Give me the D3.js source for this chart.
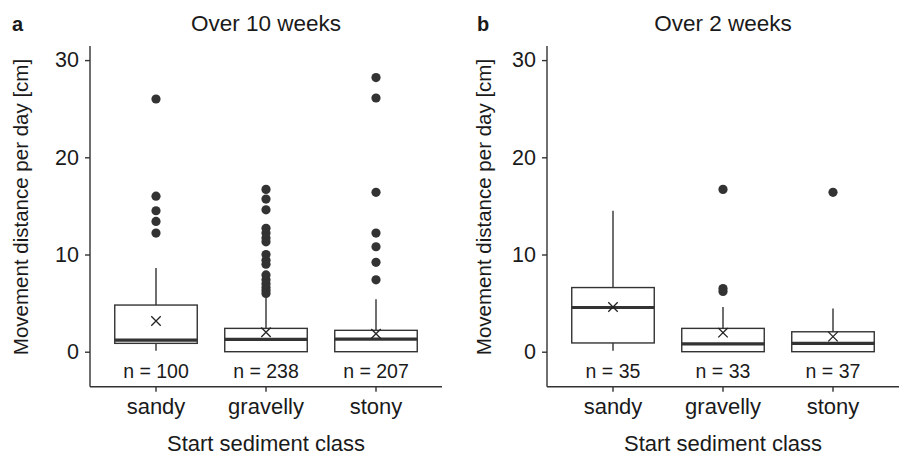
<!DOCTYPE html>
<html>
<head>
<meta charset="utf-8">
<script src="https://cdn.jsdelivr.net/npm/d3@7"></script>
<style>
  body { margin: 0; background: #fff; }
  text { font-family: "Liberation Sans", Arial, sans-serif; fill: #1a1a1a; }
</style>
</head>
<body>
<div id="chart"></div>
<script>
// Categories and panel titles
const categories = ["sandy", "gravelly", "stony"]
const panelTitles = ["Over 10 weeks", "Over 2 weeks"]
const panelLetters = ["a", "b"]
const yTicks = [0, 10, 20, 30]

// Panel a: box stats per category
const aLow = [0.1, 0, 0]
const aQ1 = [0.86, 0, 0]
const aMedian = [1.2, 1.27, 1.3]
const aQ3 = [4.8, 2.4, 2.2]
const aHigh = [8.6, 5.9, 5.4]
const aMean = [3.16, 2.0, 1.85]
const aN = [100, 238, 207]
const aOutliers = [
  [12.2, 13.4, 14.5, 16.0, 26.0],
  [6.0, 6.3, 6.6, 7.0, 7.4, 7.9, 9.0, 9.4, 10.0, 11.3, 11.7, 12.2, 12.7, 14.6, 15.7, 16.7],
  [7.4, 9.2, 10.8, 12.2, 16.4, 26.1, 28.2]
]

// Panel b: box stats per category
const bLow = [0.1, 0, 0]
const bQ1 = [0.9, 0, 0]
const bMedian = [4.55, 0.8, 0.86]
const bQ3 = [6.6, 2.4, 2.05]
const bHigh = [14.5, 4.6, 4.45]
const bMean = [4.6, 1.96, 1.55]
const bN = [35, 33, 37]
const bOutliers = [
  [],
  [6.2, 6.5, 16.7],
  [16.4]
]

function buildRows(low, q1, med, q3, high, mean, n, out) {
  return categories.map((c, i) => ({
    cat: c, low: low[i], q1: q1[i], median: med[i], q3: q3[i],
    high: high[i], mean: mean[i], n: n[i], outliers: out[i]
  }))
}

const panels = [
  buildRows(aLow, aQ1, aMedian, aQ3, aHigh, aMean, aN, aOutliers),
  buildRows(bLow, bQ1, bMedian, bQ3, bHigh, bMean, bN, bOutliers)
]

const W = 900, H = 456
const svg = d3.select("#chart").append("svg")
  .attr("width", W)
  .attr("height", H)

const ink = "#333"
const plotTop = 46, plotBottom = 386.7
const panelLefts = [90, 547]
const panelWidth = 352
// the two panels were laid out a bit differently on the left
const yTitleOffset = [62, 56]
const letterOffset = [78, 70]

const y = d3.scaleLinear()
  .domain([-3.6, 31.45])
  .range([plotBottom, plotTop])

panels.forEach((rows, p) => {
  const left = panelLefts[p]
  const g = svg.append("g")

  const x = d3.scaleBand()
    .domain(categories)
    .range([left, left + panelWidth])
    .paddingOuter(0.1)
    .paddingInner(0.0)
  // box width 0.75 of the step, like ggplot
  const step = x.step()
  const cx = d => x(d) + x.bandwidth() / 2
  const boxW = step * 0.75

  // axes
  const yAxis = d3.axisLeft(y).tickValues(yTicks).tickSize(5).tickPadding(6)
  const ga = g.append("g").attr("transform", `translate(${left},0)`).call(yAxis)
  ga.select(".domain").attr("d", `M0,${plotTop}V${plotBottom}`)
  const xAxis = d3.axisBottom(x).tickSize(5).tickPadding(4)
  const gx = g.append("g").attr("transform", `translate(0,${plotBottom})`).call(xAxis)
  gx.select(".domain").attr("d", `M${left},0H${left + panelWidth}`)

  g.selectAll(".domain, .tick line").attr("stroke", ink).attr("stroke-width", 1.4)
  ga.selectAll(".tick text").attr("font-size", 21.5).attr("fill", "#1a1a1a")
  gx.selectAll(".tick text").attr("font-size", 22).attr("fill", "#1a1a1a").attr("dy", "0.85em")

  // whiskers
  g.selectAll(".whisk").data(rows).join("line")
    .attr("x1", d => cx(d.cat)).attr("x2", d => cx(d.cat))
    .attr("y1", d => y(d.high)).attr("y2", d => y(d.low))
    .attr("stroke", ink).attr("stroke-width", 1.4)

  // boxes
  g.selectAll(".box").data(rows).join("rect")
    .attr("x", d => cx(d.cat) - boxW / 2)
    .attr("width", boxW)
    .attr("y", d => y(d.q3))
    .attr("height", d => y(d.q1) - y(d.q3))
    .attr("fill", "#fff")
    .attr("stroke", ink).attr("stroke-width", 1.4)

  // medians
  g.selectAll(".med").data(rows).join("line")
    .attr("x1", d => cx(d.cat) - boxW / 2).attr("x2", d => cx(d.cat) + boxW / 2)
    .attr("y1", d => y(d.median)).attr("y2", d => y(d.median))
    .attr("stroke", ink).attr("stroke-width", 3.2)

  // means
  g.selectAll(".mean").data(rows).join("path")
    .attr("d", d3.symbol(d3.symbolX, 60))
    .attr("transform", d => `translate(${cx(d.cat)},${y(d.mean)})`)
    .attr("fill", "none").attr("stroke", "#222").attr("stroke-width", 1.3)

  // outliers
  const pts = rows.flatMap(d => d.outliers.map(v => ({ cat: d.cat, v })))
  g.selectAll(".out").data(pts).join("circle")
    .attr("cx", d => cx(d.cat))
    .attr("cy", d => y(d.v))
    .attr("r", 4.6)
    .attr("fill", ink)

  // n labels
  g.selectAll(".nlab").data(rows).join("text")
    .attr("x", d => cx(d.cat))
    .attr("y", y(-2))
    .attr("dy", "0.35em")
    .attr("text-anchor", "middle")
    .attr("font-size", 19.5)
    .text(d => `n = ${d.n}`)

  // titles
  g.append("text")
    .attr("x", left + panelWidth / 2)
    .attr("y", 31)
    .attr("text-anchor", "middle")
    .attr("font-size", 22.5)
    .text(panelTitles[p])

  g.append("text")
    .attr("x", left + panelWidth / 2)
    .attr("y", 451)
    .attr("text-anchor", "middle")
    .attr("font-size", 22)
    .text("Start sediment class")

  g.append("text")
    .attr("transform", `translate(${left - yTitleOffset[p]},207) rotate(-90)`)
    .attr("text-anchor", "middle")
    .attr("font-size", 20.5)
    .text("Movement distance per day [cm]")

  g.append("text")
    .attr("x", left - letterOffset[p])
    .attr("y", 31)
    .attr("font-size", 20)
    .attr("font-weight", "bold")
    .text(panelLetters[p])
})
</script>
</body>
</html>
